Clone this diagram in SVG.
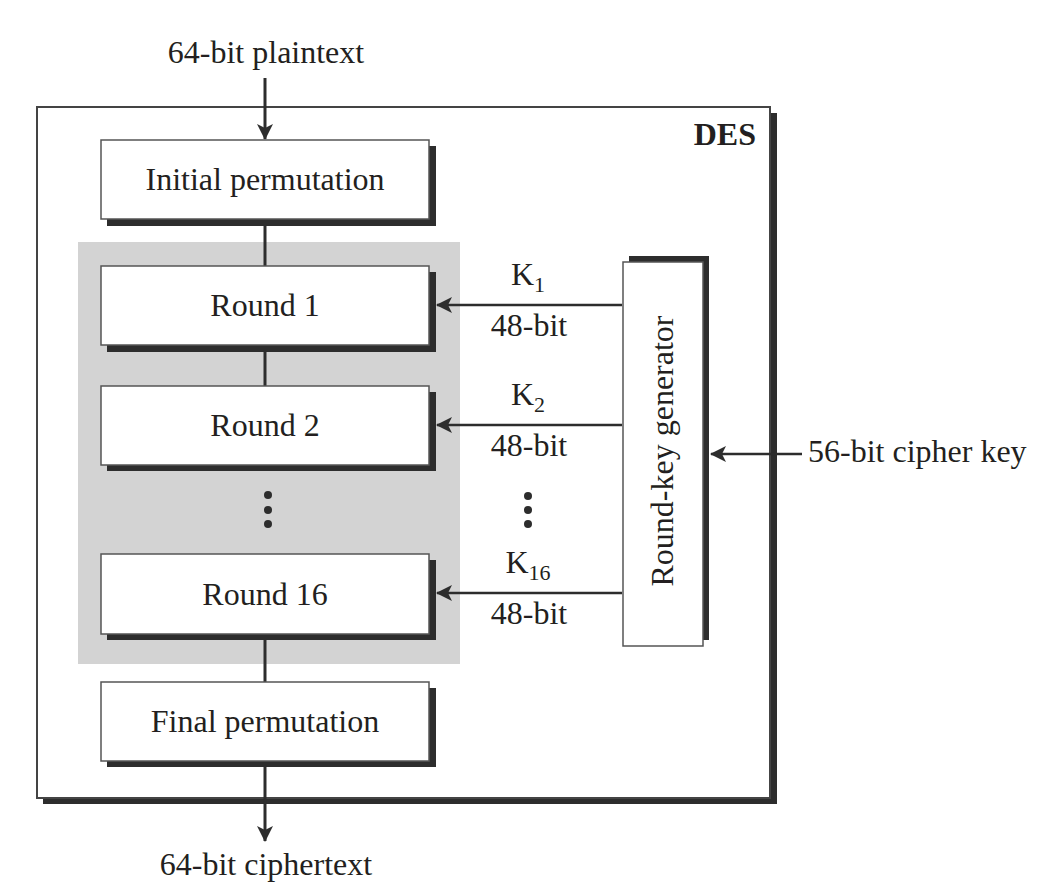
<svg xmlns="http://www.w3.org/2000/svg" width="1042" height="896" viewBox="0 0 1042 896">
<defs>
<style>
.t{font-family:"Liberation Serif","Times New Roman",serif;font-size:32px;fill:#231f20;}
.sub{font-size:22px;}
.b{font-weight:bold;}
.shadow{fill:#2d2d2d;}
.box{fill:#fff;stroke:#555;stroke-width:1.5;}
.line{stroke:#2d2d2d;stroke-width:3;fill:none;}
.kline{stroke:#2d2d2d;stroke-width:2.5;fill:none;}
</style>
<marker id="ah" viewBox="0 0 16 16" refX="15" refY="8" markerWidth="16" markerHeight="16" markerUnits="userSpaceOnUse" orient="auto">
<path d="M0,0 L16,8 L0,16 L4,8 Z" fill="#2d2d2d"/>
</marker>
</defs>
<rect width="1042" height="896" fill="#fff"/>

<g id="des-frame">
<rect class="shadow" x="43" y="113" width="734" height="691"/>
<rect x="37" y="107" width="733" height="691" fill="#fff" stroke="#444" stroke-width="2"/>
<text class="t b" x="756" y="145" text-anchor="end">DES</text>
</g>

<g id="rounds-area">
<rect x="78" y="242" width="382" height="422" fill="#d3d3d3"/>
</g>

<g id="connectors">
<line class="line" x1="265" y1="78" x2="265" y2="139" marker-end="url(#ah)"/>
<line class="line" x1="265" y1="219" x2="265" y2="266"/>
<line class="line" x1="265" y1="345" x2="265" y2="386"/>
<line class="line" x1="265" y1="634" x2="265" y2="682"/>
<line class="line" x1="265" y1="761" x2="265" y2="841" marker-end="url(#ah)"/>
<line class="kline" x1="622" y1="305" x2="437" y2="305" marker-end="url(#ah)"/>
<line class="kline" x1="622" y1="425" x2="437" y2="425" marker-end="url(#ah)"/>
<line class="kline" x1="622" y1="593" x2="437" y2="593" marker-end="url(#ah)"/>
<line class="kline" x1="802" y1="454" x2="711" y2="454" marker-end="url(#ah)"/>
</g>

<g id="initial-permutation">
<rect class="shadow" x="107" y="146" width="329" height="80"/>
<rect class="box" x="101" y="140" width="328" height="79"/>
<text class="t" x="265" y="190" text-anchor="middle">Initial permutation</text>
</g>

<g id="round-1">
<rect class="shadow" x="107" y="272" width="329" height="80"/>
<rect class="box" x="101" y="266" width="328" height="79"/>
<text class="t" x="265" y="316" text-anchor="middle">Round 1</text>
</g>

<g id="round-2">
<rect class="shadow" x="107" y="392" width="329" height="79"/>
<rect class="box" x="101" y="386" width="328" height="79"/>
<text class="t" x="265" y="436" text-anchor="middle">Round 2</text>
</g>

<g id="round-dots">
<circle cx="268" cy="495" r="4" fill="#2d2d2d"/>
<circle cx="268" cy="510" r="4" fill="#2d2d2d"/>
<circle cx="268" cy="524" r="4" fill="#2d2d2d"/>
</g>

<g id="round-16">
<rect class="shadow" x="107" y="560" width="329" height="80"/>
<rect class="box" x="101" y="554" width="328" height="80"/>
<text class="t" x="265" y="605" text-anchor="middle">Round 16</text>
</g>

<g id="final-permutation">
<rect class="shadow" x="107" y="688" width="329" height="79"/>
<rect class="box" x="101" y="682" width="328" height="79"/>
<text class="t" x="265" y="732" text-anchor="middle">Final permutation</text>
</g>

<g id="round-key-generator">
<rect class="shadow" x="629" y="256" width="80" height="384"/>
<rect class="box" x="623" y="262" width="80" height="384"/>
<text class="t" transform="translate(673,451) rotate(-90)" text-anchor="middle">Round-key generator</text>
</g>

<g id="key-labels">
<text class="t" x="528" y="285" text-anchor="middle">K<tspan class="sub" dy="7">1</tspan></text>
<text class="t" x="529" y="336" text-anchor="middle">48-bit</text>
<text class="t" x="528" y="405" text-anchor="middle">K<tspan class="sub" dy="7">2</tspan></text>
<text class="t" x="529" y="456" text-anchor="middle">48-bit</text>
<circle cx="528" cy="496" r="4" fill="#2d2d2d"/>
<circle cx="528" cy="510" r="4" fill="#2d2d2d"/>
<circle cx="528" cy="524" r="4" fill="#2d2d2d"/>
<text class="t" x="528" y="573" text-anchor="middle">K<tspan class="sub" dy="7">16</tspan></text>
<text class="t" x="529" y="624" text-anchor="middle">48-bit</text>
</g>

<g id="io-labels">
<text class="t" x="266" y="63" text-anchor="middle">64-bit plaintext</text>
<text class="t" x="266" y="875" text-anchor="middle">64-bit ciphertext</text>
<text class="t" x="808" y="462">56-bit cipher key</text>
</g>
</svg>
